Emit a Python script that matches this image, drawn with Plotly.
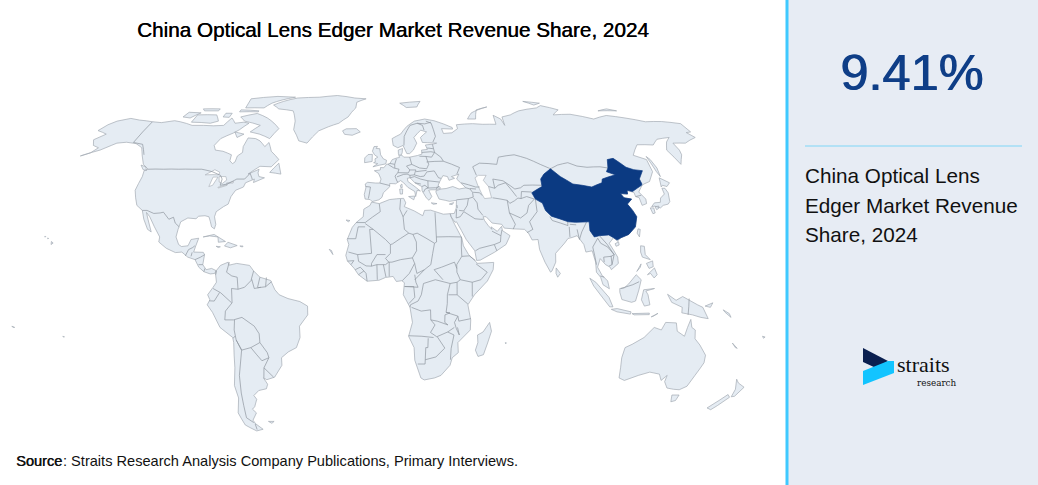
import plotly.graph_objects as go

titulo = "China Optical Lens Edger Market Revenue Share, 2024"
participacao = "9.41%"
rotulo = ["China Optical Lens", "Edger Market Revenue", "Share, 2024"]
fonte_a = "Source"
fonte_b = ": Straits Research Analysis Company Publications, Primary Interviews."

# Outlines are lon/lat (the plotly basemap needs the network)
america_norte = [(-168,65.6),(-166,68.3),(-163,70),(-156.5,71.3),(-150,70.5),(-141,69.7),(-135,69.3),(-128,70.2),(-124,69.7),(-115,68),(-108,68),(-102,67.8),(-96,68),(-94,71.5),(-90,69),(-85,69.5),(-81.5,69),(-85,66),(-87.5,64.5),(-93,62),(-94.5,59),(-92.5,57),(-88,56.5),(-82.5,55),(-82,52.5),(-80,51.3),(-79,52),(-79,54.5),(-77,56),(-78,58.5),(-77.5,62.3),(-73,62),(-70,61),(-66,58.5),(-64.5,60.3),(-61.5,56.5),(-56,53),(-59,50),(-65,50.2),(-70,47),(-65,49),(-65,47.5),(-64,46),(-61,45.5),(-66,43.6),(-66,45),(-70,43.5),(-70.5,41.8),(-74,40.5),(-75.5,38),(-76,35),(-78,34),(-81,32),(-81.3,30),(-80,27),(-80.3,25.2),(-81.8,26),(-82.8,28),(-84,30),(-86,30.4),(-89,30.2),(-90,29.2),(-94,29.5),(-97,28),(-97.5,25),(-97.8,22),(-96,19),(-94.5,18.2),(-91.5,18.5),(-90.5,21),(-87,21.5),(-88,18),(-88.5,16),(-84,15.9),(-83.3,15),(-83.7,11),(-82,9),(-79.5,9.5),(-77.3,8.6),(-78,7.5),(-80,7.3),(-83,8.2),(-85.5,10),(-87.5,13),(-91,14),(-94,16),(-97,15.8),(-101.5,17.5),(-105.5,20),(-105.5,22),(-109,26),(-112.5,30),(-114.7,31.7),(-113,29),(-110,24),(-112,25),(-115,29),(-117,32.5),(-120.5,34.5),(-122.5,37.5),(-124.3,40.5),(-124,46),(-124.7,48.4),(-123,49),(-127,51),(-130.5,54.5),(-134,58),(-139,59.8),(-145,60.4),(-150,60),(-152,59),(-156,57),(-164,54.5),(-160,55.8),(-158,58),(-162,59),(-165,61.5),(-161,64),(-168,65.6)]
america_sul = [(-77.3,8.6),(-75.5,10.7),(-72,12),(-71.5,10.8),(-68,11.5),(-62,10.7),(-60,8.5),(-57,6),(-52,4.7),(-50,1),(-48,-1),(-44,-2.5),(-38.5,-3.7),(-35,-5.5),(-35,-9),(-39,-13.5),(-39,-18),(-41,-22),(-45,-23.7),(-48.5,-26),(-48.7,-29),(-53,-33.7),(-57,-34.7),(-58.5,-34),(-57,-36.5),(-58,-38.3),(-62,-39),(-65,-41),(-64,-42.5),(-66,-45.5),(-67.5,-46.5),(-66,-48),(-69,-51),(-68.2,-52.5),(-65.2,-54.8),(-69,-55.5),(-74,-53),(-75.5,-48),(-73,-42),(-73.5,-37),(-71.5,-30),(-70.3,-20),(-70.5,-18),(-76,-14),(-79,-8),(-81.3,-5),(-80,-3),(-81,-1),(-78.5,2),(-77,4),(-77.5,7),(-77.3,8.6)]
africa = [(-5.8,35.8),(-2,35.2),(3,36.8),(10,37.3),(11,35.5),(10.2,34),(15,32.3),(19,30.4),(20,32.5),(23,32.6),(29,31),(32.3,31.2),(32.6,30),(34,27),(37,21.5),(37.5,18.5),(39.7,15),(43.2,12),(43.5,11.5),(51.2,11.9),(50.8,9),(48,4.5),(42,-1),(39,-5),(40.5,-11),(40.5,-15),(35,-20),(35.5,-24),(32.8,-26),(32,-29),(28,-33),(25,-34),(20,-34.8),(18.3,-34),(15,-27),(14.5,-22),(11.8,-17.5),(13.5,-12),(12.3,-6),(9.2,-1),(9.7,3.8),(8.5,4.6),(6,4.3),(4.5,6.3),(1,5.9),(-2,4.8),(-7.5,4.4),(-11.5,7),(-13.5,9.5),(-16.7,12.5),(-17.5,14.7),(-16.2,19),(-17,21),(-14.8,25.8),(-13,27.7),(-9.7,30),(-9.5,33),(-6.5,34.5),(-5.8,35.8)]
eurasia = [(-9,37),(-9.5,38.8),(-8.8,41.5),(-9.2,43),(-8,43.7),(-4,43.4),(-1.8,43.4),(-1.2,45),(-2.5,47.3),(-4.7,48.4),(-1.6,48.7),(-1.5,49.7),(0.2,49.6),(1.6,50.9),(3.5,51.4),(4.8,53),(7,53.6),(8.7,53.9),(8.2,55.5),(8.2,57),(10.6,57.7),(10.3,56),(9.8,55),(11,54),(14.2,54),(18.5,54.7),(21,55.3),(21,57),(24.3,57.3),(23.5,59.2),(28,59.6),(30,60),(25,60.2),(22,60.3),(21.3,62.5),(25.3,65),(22,65.8),(17.5,62.5),(18.8,60),(16.5,57),(14.3,55.5),(12.8,55.5),(11,59),(8,58),(5.5,59),(5,62),(10,64),(14,67.5),(19,70),(25.5,71),(31,70.2),(41,67),(41,66.3),(34.5,66.5),(35,64.3),(40,64.6),(44,66.5),(44,68.3),(54,68.8),(60,68.5),(68,68.5),(69,72.8),(72.5,71),(73,68),(74,72),(80,73),(87,75),(100,76.5),(104,77.7),(113,75.5),(107,73),(118,73.3),(130,71),(140,72.7),(150,71.5),(160,69.7),(170,69.8),(180,68.8),(180,65),(177,64.7),(179,62.5),(170,60),(163,60),(163,57),(162,55),(157.5,51),(156,57),(160,60.5),(164,62.5),(156,61.7),(151,59.2),(142,59.3),(135.5,54.8),(141,53),(140,48),(135.5,44),(132,43),(130.5,42.3),(127.5,39.8),(129.5,37),(129,35.2),(126.5,34.5),(126.5,37.5),(125,38),(125,39.6),(122,40.5),(121.5,39),(118,39.2),(119,37.5),(122.5,37),(119.5,35),(121,32.5),(122,30),(120,26),(116,23),(112,21.7),(110,20.3),(108.5,21.7),(106,19.5),(109,14),(109,11.5),(105.5,9),(105,10),(103,11),(100.8,13.4),(99.2,10),(101,6.8),(103.5,4.5),(104.2,1.4),(101.3,3),(100.3,6),(98.5,8),(98.5,12),(97.5,16.5),(94.5,16),(94,19),(91.5,22.5),(89,21.8),(87,21.4),(85,19.5),(80.3,15.5),(80,12),(78,8.5),(77.3,8),(75,12),(73,17),(72.8,21),(70,20.8),(68.7,23.5),(67,25),(62,25.2),(57.5,25.5),(56.5,27),(52,27.5),(49.5,30),(48,30),(48.5,28.5),(50,26.5),(51.5,25),(51.3,26),(54,24.2),(56.3,26.2),(56.5,24.5),(59.8,22.5),(57.5,19),(52,16),(45,12.8),(43.3,12.7),(42.7,16.5),(39,21),(35,28),(34.3,27.8),(32.6,30),(32.3,31.2),(34.3,31.3),(35.5,33.5),(36,36.5),(32.5,36.1),(30.5,36.5),(27.5,37),(26.3,39.5),(26.3,40.3),(29,41),(31.5,41.2),(35,42),(38,41),(41.5,41.5),(37.5,45),(39,47),(35,46),(36.5,45.3),(33.5,44.5),(33,46),(30.7,46.4),(28.7,44),(27.7,42.5),(28.8,41.3),(26.2,40.7),(23.8,40.7),(22.7,40.5),(24,38),(22.5,36.5),(21.2,37.5),(19.4,40.3),(19.4,42),(16,43.5),(13.7,45.5),(12.3,45.3),(12.5,44),(16,41.9),(18.5,40.2),(16.9,40.5),(16,38),(15.7,40),(12.3,41.7),(10.3,43.5),(8.8,44.4),(6.2,43.1),(3.2,43.2),(3.2,41.9),(0,39.5),(-0.7,37.7),(-2.2,36.7),(-5.5,36),(-6.5,36.8),(-9,37)]
australia = [(114,-22),(113.5,-26),(115,-34),(118,-35),(124,-33),(129,-31.7),(134,-32.5),(136,-35),(138,-33),(138,-35.5),(140.5,-38),(144,-38.5),(147,-38.7),(150,-37.3),(151.5,-33),(153.5,-28),(153,-25),(149,-21),(146,-18.5),(145.3,-15),(143.5,-14),(142.5,-10.8),(141.5,-14),(140.8,-17.5),(137,-15.5),(136,-12.2),(131,-12),(129.5,-15),(126,-14),(122,-18),(117,-20.7),(114,-22)]

ilhas = [
    [(-5.5,50),(1.3,51.2),(1.7,52.7),(0,53.3),(-1.5,55),(-2,57.6),(-4,57.7),(-3.3,58.6),(-5.2,58.5),(-6,56.5),(-4.8,55),(-3,54),(-4.5,53.3),(-4.3,52),(-5.2,51.7),(-3,51.3),(-5.5,50)],
    [(-6,52.2),(-6,54),(-6,55.2),(-8.3,55.1),(-10,53.7),(-10,51.7),(-6,52.2)],
    [(-24,65.5),(-22,66.4),(-16,66.5),(-13.5,65),(-18,63.5),(-22.5,63.9),(-24,65.5)],
    [(-73,78),(-68,80),(-60,82),(-45,82.5),(-33,83.6),(-20,82),(-12,81.5),(-18,79.5),(-18,76.5),(-22,72),(-27,69),(-38,65.5),(-43,60),(-48,61),(-53,66),(-54,70),(-58,75),(-68,76),(-73,78)],
    [(-80,73.7),(-72,71.5),(-62,66.5),(-65,62),(-72,64),(-78,65),(-74,68),(-85,70),(-89,72),(-80,73.7)],
    [(-117,69.5),(-105,69),(-101,70),(-105,73),(-117,73),(-117,69.5)],
    [(-125,72),(-120,71.5),(-116,74),(-124,74.3),(-125,72)],
    [(-90,76.5),(-78,76.5),(-75,79),(-62,82.5),(-75,83),(-92,81.5),(-90,76.5)],
    [(-92,75.5),(-80,75),(-80,74.5),(-92,74.5),(-92,75.5)],
    [(-117,76),(-106,76),(-106,75),(-115,75),(-117,76)],
    [(-100,73.8),(-96,73.8),(-96,71.8),(-100,72),(-100,73.8)],
    [(-87,65),(-81,64),(-84,62.5),(-87,65)],
    [(-59,47.7),(-55.5,51.5),(-53,47),(-59,47.7)],
    [(-128,50.7),(-125,50),(-123.5,48.5),(-125.5,48.8),(-128,50.7)],
    [(-85,22),(-80,23),(-74.2,20.2),(-77.5,19.9),(-78,22),(-82,22.4),(-85,22)],
    [(-74.4,18.4),(-73,19.9),(-68.5,18.6),(-71.5,17.7),(-74.4,18.4)],
    [(-78.3,18.3),(-76.3,18.1),(-77.3,17.8),(-78.3,18.3)],
    [(-67.2,18.4),(-65.7,18.4),(-66,18),(-67.2,18.4)],
    [(-156,20.2),(-155,19.6),(-155.8,19),(-156,20.2)],
    [(-158.2,21.6),(-157.7,21.4),(-158.1,21.3),(-158.2,21.6)],
    [(-159.8,22.2),(-159.3,22.2),(-159.5,21.9),(-159.8,22.2)],
    [(-61,-51.5),(-58,-51.5),(-59.5,-52.3),(-61,-51.5)],
    [(11,79),(25,80),(22,77),(15,76.7),(11,79)],
    [(52,71),(56,74),(68,77),(60,75.5),(57,71),(52,71)],
    [(95,80),(105,79),(100,78),(95,80)],
    [(138,75),(145,76),(150,75),(138,75)],
    [(12.5,38),(15.6,38.2),(15,36.7),(12.5,38)],
    [(8.2,41),(9.7,41),(9.5,39),(8.4,39),(8.2,41)],
    [(8.6,42.5),(9.4,43),(9.5,41.6),(8.8,41.5),(8.6,42.5)],
    [(23.5,35.5),(26.3,35.2),(24.5,34.9),(23.5,35.5)],
    [(32.3,35),(34.5,35.6),(33.7,34.8),(32.3,35)],
    [(80,9.7),(81.8,7.5),(80.5,6),(79.8,7.5),(80,9.7)],
    [(95.3,5.6),(98,4),(104,-2),(106,-5.8),(104.5,-5.8),(100.5,-1.5),(97,2.5),(95.3,5.6)],
    [(105.3,-6.8),(108,-6.5),(114.5,-7.8),(114.3,-8.7),(108,-7.8),(105.3,-6.8)],
    [(115,-8.5),(123,-8.3),(123,-8.9),(116,-9),(115,-8.5)],
    [(124,-9.8),(127,-8.4),(125,-9.5),(124,-9.8)],
    [(109,1.5),(111,1.7),(113,3.2),(116.8,7),(119,5),(117.8,1),(116.3,-3.5),(114.5,-4),(110,-2.9),(109,0),(109,1.5)],
    [(120,1),(125,1.5),(121,0.5),(122,-1),(123,-5),(120.5,-5.5),(119,-3),(120,1)],
    [(131,-0.8),(135,-3.2),(138,-1.7),(145,-5),(147.5,-6),(150.5,-10.5),(147,-10),(143,-9),(138,-8.2),(138,-6),(133,-4),(131,-0.8)],
    [(148.5,-5.5),(152,-4.2),(151,-6),(148.5,-5.5)],
    [(120.5,18.5),(122.2,18.3),(122,15),(124,13),(120.5,14),(120,16),(120.5,18.5)],
    [(122,7),(125.5,9.7),(126.5,7),(125,5.7),(123.5,7.5),(122,7)],
    [(122,11.5),(125,12.5),(125,10.2),(123,9.5),(122,11.5)],
    [(117.2,8.3),(119.5,11.3),(119,10),(117.2,8.3)],
    [(130.9,34),(133,35.5),(136,35.7),(137,37.4),(139.8,39),(140,41.3),(141.5,41.3),(142,39.5),(140.8,36),(139.5,35),(136.8,34.5),(135,33.5),(132.5,34.2),(130.9,34)],
    [(130,33.5),(131.7,33.5),(131.5,31.5),(130.3,31.2),(130,33.5)],
    [(132.5,34),(134.5,34.2),(134,33.3),(132.8,32.8),(132.5,34)],
    [(140,41.8),(141.5,45.5),(145.3,43.5),(143,42),(141,42.5),(140,41.8)],
    [(142,54.3),(143,53),(143.5,49.5),(142.5,46),(142,48),(142,54.3)],
    [(121,25.2),(122,25),(120.8,22),(120.1,23.5),(121,25.2)],
    [(108.7,19.3),(110.5,20.1),(110.5,18.8),(109,18.3),(108.7,19.3)],
    [(49.3,-12),(50.4,-15.5),(47.5,-24.8),(45,-25.5),(43.5,-23),(44.4,-20),(44,-17),(46.5,-15.8),(49.3,-12)],
    [(144.7,-40.8),(148.3,-40.8),(148,-43),(146,-43.5),(144.7,-40.8)],
    [(172.7,-34.5),(174.5,-36),(178.5,-37.7),(176.5,-41.3),(175,-41.5),(174.8,-38.5),(172.7,-34.5)],
    [(172.7,-40.6),(174.3,-41.7),(171,-45),(169,-46.7),(166.5,-46),(170,-43),(172.7,-40.6)],
    [(164,-20.2),(167,-22.3),(166,-22),(164,-20.2)],
    [(177.3,-17.5),(178.6,-17.8),(178,-18.3),(177.3,-17.5)],
    [(157,-7),(160,-8.5),(161,-10),(158,-8),(157,-7)],
    # small Atlantic and Pacific islands
    [(-17.9,28.7),(-16,28.5),(-16.8,28),(-17.9,28.7)],
    [(-25.3,17.1),(-24.2,16.6),(-23.5,15),(-25.3,17.1)],
    [(-172.7,-13.5),(-171.5,-14),(-172.4,-13.9),(-172.7,-13.5)],
    [(-149.9,-17.5),(-149.2,-17.7),(-149.6,-17.9),(-149.9,-17.5)],
    [(57.3,-20),(57.8,-20.1),(57.5,-20.5),(57.3,-20)],
]

lagos = [
    [(-92,46.7),(-88,48.8),(-85,47.8),(-85,46.7),(-88,46.8),(-92,46.7)],
    [(-88,42),(-87.5,45.8),(-85,45.8),(-86.3,42.5),(-88,42)],
    [(-84.5,46),(-81,46),(-80,44.6),(-81.7,43.2),(-83.5,43.8),(-84.5,46)],
    [(-83.3,41.7),(-79,42.8),(-79,42.5),(-83,41.4),(-83.3,41.7)],
    [(-79.7,43.3),(-76.3,44),(-76.3,43.4),(-79.7,43.3)],
    [(47,45.5),(49,46.5),(53,46.5),(51,44.5),(53,42),(53.5,37.5),(50,37.2),(49,39),(47.7,42.5),(47,45.5)],
]

china_poligonos = [
    [(74,39.5),(80,42),(80.5,45),(83,47),(87.5,49.2),(91,46),(96,43),(105,41.8),(111,43.5),(112,45),(119.8,46.7),(116,48),(117.8,49.5),(120,53),(123.5,53.5),(127.5,49.8),(130.8,48.8),(135,48.4),(131,45),(131,43),(130.5,42.5),(128,41.5),(124.5,40),(122,40.5),(121.5,39),(118,39.2),(119,37.5),(122.5,37),(119.5,35),(121,32.5),(122,30),(120,26),(116,23),(112,21.7),(110,20.8),(108.5,21.7),(106.5,22.8),(102,22.5),(99.5,22),(98,24.5),(98.5,28),(92,27.8),(88.5,28),(81,30.2),(78.7,32.5),(78,35.4),(75,37),(74,39.5)],
]

fronteiras = [
    [(-141,69.7),(-141,60.3),(-135,59.5),(-130,55)],
    [(-123,49),(-115,49),(-107,49),(-100,49),(-95,49),(-89,48),(-84,46.5),(-82.5,45),(-82.5,42.5),(-79,43),(-76,44.5),(-75,45),(-71,45),(-69,47.3),(-67.5,45.5),(-67,44.8)],
    [(-117,32.5),(-114.7,32.5),(-111,31.3),(-108,31.5),(-106.5,31.8),(-103,29),(-101,29.8),(-99.5,27.5),(-97.2,26)],
    [(-92.2,14.5),(-91,17),(-89.2,17.8),(-88.3,18.5)],
    [(-89.2,15.9),(-89.5,14.3)],
    [(-87.5,13),(-85,14),(-83.2,15)],
    [(-85.7,11),(-83.7,11)],
    [(-83,8.2),(-82.6,9.5)],
    [(-77.3,8.6),(-77.5,7)],
    [(-71.5,12),(-72.5,8),(-70,6.5),(-67.5,6),(-67,1.2)],
    [(-67,1.2),(-70,1.5),(-69.8,-4.2)],
    [(-78.5,1.5),(-75,-0.2),(-70,-4.2)],
    [(-80.3,-3.4),(-78,-3.5),(-75.5,-0.1)],
    [(-60,8.5),(-61,5),(-60.7,5)],
    [(-67,1.2),(-64,2),(-60.7,5)],
    [(-60.7,5),(-59.5,1.5),(-56.5,2)],
    [(-57,6),(-58,2)],
    [(-54,5.9),(-54.3,2.2)],
    [(-58,1.8),(-54.3,2.2),(-51.6,4.2)],
    [(-69.8,-4.2),(-73,-7.5),(-73.5,-11),(-69.5,-11)],
    [(-69.5,-11),(-65.5,-10),(-60,-13.5),(-58,-16.5),(-58,-20),(-62.5,-22),(-67,-23),(-69,-19),(-69.5,-15),(-69,-11)],
    [(-58,-20),(-55,-24),(-54.5,-26),(-58,-27.2),(-62.5,-22)],
    [(-69,-19),(-67,-23),(-70,-33),(-71,-40),(-72,-50),(-69,-52)],
    [(-68.5,-52.5),(-68.5,-54.9)],
    [(-70.3,-18.3),(-69.5,-17.5)],
    [(-53.5,-33.7),(-57.5,-30),(-58.3,-34)],
    [(-54.5,-26),(-57.5,-30)],
    # Africa
    [(-2,35.1),(-1.5,32),(-8.7,27.7)],
    [(-13,27.7),(-8.7,27.7)],
    [(-8.7,26),(-12,26),(-13,21.3),(-17,21.3)],
    [(-8.7,27.3),(-4.8,25),(1,21),(3.3,19),(4.2,19.2),(12,23.5)],
    [(-4.8,25),(-6.5,25),(-5.5,15.5),(-12,15),(-16.3,16)],
    [(8.5,37),(8,33),(9.5,30),(11.5,32.5)],
    [(9.5,30),(10,25),(12,23.5)],
    [(25,31.7),(25,22)],
    [(25,22),(25,20),(24,19.5),(16,23.5),(14,23)],
    [(12,23.5),(14,23),(15.5,20),(15.5,16.5),(13.5,13.7),(8,13),(4,12),(2.5,12),(1,13.5),(3.3,15.5),(3.3,19)],
    [(25,22),(36.8,22)],
    [(24,19.5),(23,15.5),(22,11),(19,9),(15.5,7.5),(14.5,11.5),(13.5,13.7)],
    [(-12,15),(-11.5,12.3),(-8,10.5),(-5.5,10.4),(-3,11)],
    [(-3,11),(-2.8,5)],
    [(0,11),(1.2,6.1)],
    [(2.7,12),(2.7,6.3)],
    [(-3,11),(1,11),(2.5,12)],
    [(-5.5,10.4),(-5.5,11.5),(-3,15),(1,15)],
    [(-11.5,7),(-9,8.5),(-8,7.5),(-7.5,4.4)],
    [(-13,9),(-10.7,10),(-9,8.5)],
    [(-16.7,12.4),(-13.7,12.6),(-15,11)],
    [(14.5,11.5),(12,7.5),(8.7,4.6)],
    [(9.8,2.3),(16,2),(15,4),(14.5,7)],
    [(14.5,5),(19,9)],
    [(9.8,2.3),(14,2.3),(14.5,-2),(11.8,-4.5)],
    [(18.5,3.5),(17.5,-1),(16,-3.5),(12.5,-5),(12.3,-6)],
    [(18.5,3.5),(24,5),(30.8,3.5)],
    [(30.8,3.5),(29.5,-1),(29.5,-4.5),(29,-8),(30.8,-8.2),(28.5,-9),(28.5,-12),(30,-13),(25,-11.5),(22,-11),(21.8,-7),(17.5,-7.5),(13,-6)],
    [(23.5,9),(27,10),(33,12),(34,9.5)],
    [(27.5,5),(23.5,9)],
    [(30.8,3.5),(34,4)],
    [(36.5,14.3),(34,11),(34,8),(35.5,5),(41,4),(45,5),(48,8),(43,11.3)],
    [(36.5,14.3),(40,14.5),(42.7,12.7)],
    [(36.8,22),(36.5,18),(36.5,14.3)],
    [(41,4),(41,-1.7)],
    [(35.5,5),(34,4),(34,1),(34,-1),(39,-4.7)],
    [(30,-1),(34,-1)],
    [(40.5,-10.5),(35,-11.5),(34.5,-9.5),(29,-8)],
    [(34.5,-9.5),(33,-12),(34,-14.5),(35.5,-17),(34.5,-14)],
    [(22,-11),(24,-13),(22,-16),(25,-17.7),(30,-15.8),(33,-14)],
    [(11.8,-17.3),(18,-17.5),(23.5,-18)],
    [(21,-18.3),(21,-22),(20,-22),(20,-28.5),(16.5,-28.5)],
    [(25.3,-17.8),(29,-22.2),(25,-25.7),(20,-26.8)],
    [(30,-15.8),(33,-17),(32,-22.3),(32,-26.8)],
    # Europe
    [(-8.8,42),(-6.5,41.8),(-7,39),(-7.4,37.2)],
    [(-1.8,43.4),(3.2,42.4)],
    [(2.5,51),(5.5,49.5),(8.2,49),(7.5,47.6),(6,46.2),(7,44),(7.5,43.8)],
    [(3.4,51.4),(6,51)],
    [(6,49.5),(6,51),(7,53.3)],
    [(8.7,54.9),(9.8,54.8)],
    [(14.2,54),(15,51),(12.2,50.3),(13.8,48.7),(13,47.5),(7.5,47.6)],
    [(19.5,54.4),(23,54.3),(24,51),(22.7,49.2),(19,49.5),(15,51)],
    [(7,45.9),(10.5,46.9),(12.3,47),(13.7,46.5),(13.7,45.5)],
    [(13.8,48.7),(17,48.7),(16.5,47.8),(16,46.7),(13.7,46.5)],
    [(17,48),(20,48.3),(22.5,48.5)],
    [(16,46.7),(19,46),(21,46.2),(22.5,47.8)],
    [(22.5,47.9),(26.5,48.3),(28.3,45.5),(29.5,45.3)],
    [(22.7,44.3),(28.5,43.8)],
    [(22.7,44.3),(22.5,41.4),(26.2,41.5),(28,42)],
    [(13.7,45.5),(16,46),(19,45),(22.7,44.3)],
    [(19.4,42),(21,42.5),(22.5,41.4)],
    [(20,39.7),(21,41),(22.5,41.4)],
    [(16,43.5),(19,43)],
    [(23,52),(32,52.3),(40,49.7),(38,47)],
    [(21,56),(26,56.3),(28,56)],
    [(23,54.3),(26,54),(28,56),(27.5,59.5)],
    [(24.3,57.9),(27.5,57.6)],
    [(28,56),(31,54),(32,52.3)],
    [(28,60.5),(30,63),(29,69),(26,70)],
    [(11.5,59),(12,63),(16,68),(20.5,69),(25,68.7),(29,69.5)],
    [(24,65.8),(23.5,68),(20.5,69)],
    # Middle East and Asia
    [(26.3,41),(28,42)],
    [(36,36.7),(42,37.2),(44.5,37.8),(44.5,39.7),(43.5,41),(41.5,41.5)],
    [(39.5,43.5),(46.5,41.8),(48.5,41.8)],
    [(43.5,41.2),(46.5,41)],
    [(44.8,39.7),(48,39.5),(49,38.4)],
    [(44.5,37.5),(46,35.5),(46,33),(48,30.5)],
    [(42,37.2),(41,34.5),(39,32.3)],
    [(36.8,32.5),(39,32.3)],
    [(35,29.5),(35.6,33)],
    [(36,34.6),(36,33.4)],
    [(35,29.5),(37,30),(39,32),(44,29.2),(46.5,29),(48,29)],
    [(43,16.5),(45,17.5),(52,19),(53,16.5)],
    [(52,19),(55,20),(55.5,22.5),(56.3,24.8)],
    [(51.5,24.3),(55.5,22.5)],
    [(48,46.5),(47,50),(51,51.5),(60,51),(62,54),(71,55),(77,53.5),(83,51),(87.5,49.2)],
    [(53,42),(56,41.3),(56,45),(61,44.3),(66,41),(69,41.5),(71,42.5),(80,42.5)],
    [(56,41.3),(58,42.5),(62,43.5),(66,38)],
    [(54,37.5),(61,36.5),(62,35.3),(64.5,36.3),(66.5,37.4)],
    [(61,36.5),(61,31.5),(66,29.5),(69.5,31.5),(71,34.5),(74.5,37),(71,38),(68,37.2),(66.5,37.4)],
    [(61,31.5),(63,27),(61.7,25.1)],
    [(68,23.7),(71,25),(70,28),(74.5,32),(75,37)],
    [(68,37.2),(69,40),(74,39.8)],
    [(87.5,49.2),(92,50.7),(98,51.7),(102,50.3),(107,49.8),(114,50),(117.8,49.5)],
    [(80.2,30),(81,28.5),(88,26.5),(88.2,28)],
    [(89,27),(92,26.8)],
    [(88.5,26),(88,22)],
    [(92,25),(92.3,21)],
    [(92.3,21),(94,24),(97.3,28)],
    [(101,21.5),(98,18),(98.8,11)],
    [(101,21.5),(102,19.5),(105,18),(107.5,15),(106,14.3),(102.5,14)],
    [(102,22.5),(105,19),(107.5,15),(106,11)],
    [(102.5,12),(102.5,14)],
    [(106,14.5),(106,11),(104.5,10.4)],
    [(100.2,6.5),(102,6)],
    [(125,38),(128,38.5)],
    [(141,-2.5),(141,-9)],
    [(109.5,1.5),(115,3),(118,4.2)],
]


def anel_horario(anel):
    """d3 preenche o lado de fora se o anel estiver no sentido anti-horario."""
    area = sum(a[0] * b[1] - b[0] * a[1] for a, b in zip(anel, anel[1:]))
    return anel[::-1] if area > 0 else anel


def juntar(aneis, fechar=True):
    lon, lat = [], []
    for anel in aneis:
        for x, y in (anel_horario(anel) if fechar else anel):
            lon.append(x)
            lat.append(y)
        lon.append(None)
        lat.append(None)
    return lon[:-1], lat[:-1]


def px(x):
    return x / 1038


def py(y):
    return 1 - y / 485


COR_TERRA = "#E5ECF3"
COR_BORDA = "#A4ABB3"
COR_CHINA = "#0B3A82"

fig = go.Figure()

lon, lat = juntar([america_norte, america_sul, africa, eurasia, australia] + ilhas)
fig.add_trace(go.Scattergeo(lon=lon, lat=lat, mode="lines", fill="toself", fillcolor=COR_TERRA,
                            line=dict(color=COR_BORDA, width=0.7), hoverinfo="skip"))
lon, lat = juntar(lagos)
fig.add_trace(go.Scattergeo(lon=lon, lat=lat, mode="lines", fill="toself", fillcolor="#FFFFFF",
                            line=dict(color=COR_BORDA, width=0.6), hoverinfo="skip"))
lon, lat = juntar(fronteiras, fechar=False)
fig.add_trace(go.Scattergeo(lon=lon, lat=lat, mode="lines", line=dict(color="#8E959D", width=0.7),
                            hoverinfo="skip"))
lon, lat = juntar(china_poligonos)
fig.add_trace(go.Scattergeo(lon=lon, lat=lat, mode="lines", fill="toself", fillcolor=COR_CHINA,
                            line=dict(color=COR_CHINA, width=0.7), hoverinfo="skip"))

fig.update_geos(
    domain=dict(x=[0, 0.76], y=[0, 1]),
    projection=dict(type="natural earth", scale=0.99),
    center=dict(lon=5.2, lat=19.8),
    visible=False,
    bgcolor="rgba(0,0,0,0)",
)

# Right panel
fig.add_shape(type="rect", xref="paper", yref="paper", x0=px(787), x1=1, y0=0, y1=1,
              fillcolor="#E7ECF4", line_width=0, layer="below")
fig.add_shape(type="line", xref="paper", yref="paper", x0=px(787), x1=px(787), y0=0, y1=1,
              line=dict(color="#3FC9FF", width=3))
fig.add_shape(type="line", xref="paper", yref="paper", x0=px(805), x1=px(1022), y0=py(146), y1=py(146),
              line=dict(color="#7FD6F7", width=1))

# Logo
fig.add_shape(type="path", xref="paper", yref="paper", fillcolor="#0A1F4F", line_width=0,
              path=f"M {px(863)} {py(348)} L {px(888)} {py(361)} L {px(876)} {py(368)} L {px(863)} {py(362)} Z")
fig.add_shape(type="path", xref="paper", yref="paper", fillcolor="#12C4FF", line_width=0,
              path=f"M {px(863)} {py(385)} L {px(863)} {py(371)} L {px(888)} {py(361)} L {px(894)} {py(361)} "
                   f"L {px(894)} {py(373)} Z")


def texto(x, y, s, xanchor="left", **fonte_args):
    fig.add_annotation(xref="paper", yref="paper", x=px(x), y=py(y), text=s, showarrow=False,
                       xanchor=xanchor, yanchor="middle", align="left", font=fonte_args, borderpad=0)


texto(393, 29, titulo, xanchor="center", family="Liberation Sans", size=20.7, color="#000000",
      shadow="0.4px 0 0 #000000")
texto(15, 461, fonte_a, family="Liberation Sans", size=14.6, color="#111111", shadow="0.4px 0 0 #111111")
texto(61.5, 461, fonte_b, family="Liberation Sans", size=14.6, color="#111111")
texto(911.5, 72, participacao, xanchor="center", family="Liberation Sans", size=50.5, color="#0F3E87",
      shadow="1px 0 0 #0F3E87")
for linha, y in zip(rotulo, [175, 205, 234]):
    texto(804, y, linha, family="Liberation Sans", size=20.7, color="#111111")
texto(896, 364.5, "straits", family="Liberation Serif", size=22, color="#111111")
texto(916, 382.5, "research", family="DejaVu Serif", size=8.8, color="#111111")

fig.update_layout(width=1038, height=485, margin=dict(l=0, r=0, t=0, b=0),
                  paper_bgcolor="#FFFFFF", plot_bgcolor="#FFFFFF", showlegend=False)
# Page default margin would push the figure 8px off the window
fig.write_html("out.html", config=dict(displayModeBar=False),
               post_script="document.body.style.margin = '0';")
